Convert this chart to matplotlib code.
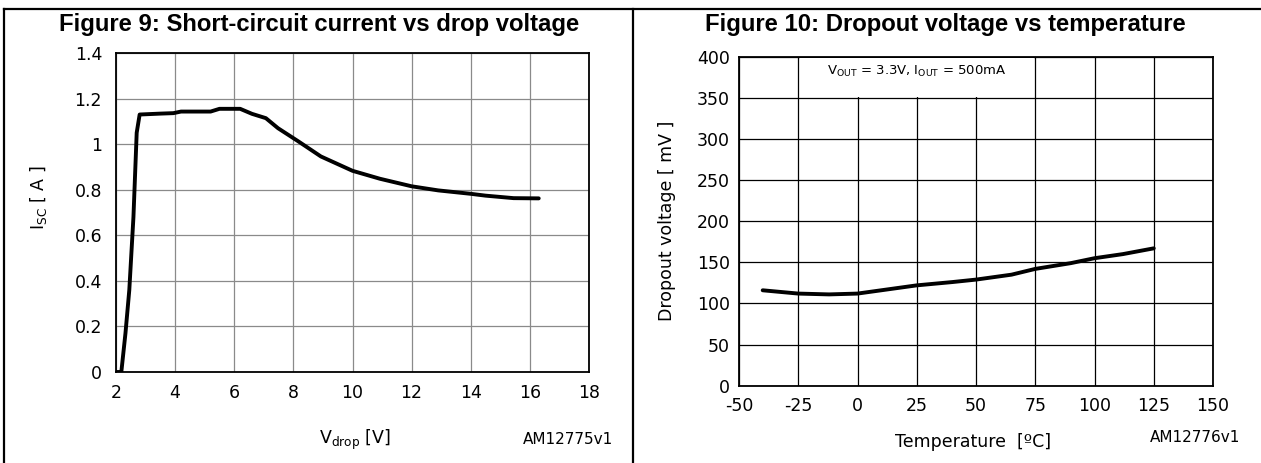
import matplotlib
matplotlib.use('Agg')
import matplotlib.pyplot as plt
from matplotlib.lines import Line2D
from matplotlib.patches import Rectangle

plt.rcParams['axes.unicode_minus'] = False

# Figure 9 data: short-circuit current vs drop voltage
v_drop = [2.0, 2.18, 2.32, 2.45, 2.59, 2.70, 2.80, 3.5, 3.94, 4.2, 5.2, 5.5, 6.2,
          6.6, 7.07, 7.48, 8.17, 8.93, 10.0, 10.93, 12.0, 12.9, 14.0, 14.5, 15.45, 16.3]
i_sc = [0.0, 0.0, 0.17, 0.36, 0.68, 1.05, 1.13, 1.134, 1.136, 1.143, 1.143, 1.155, 1.155,
        1.133, 1.114, 1.07, 1.012, 0.946, 0.883, 0.848, 0.815, 0.797, 0.782, 0.774, 0.763, 0.762]

# Figure 10 data: dropout voltage vs temperature
temp = [-40, -25, -12, 0, 10, 25, 40, 50, 65, 75, 90, 100, 112, 125]
dropout = [116, 112, 111, 112, 116, 122, 126, 129, 135, 142, 149, 155, 160, 167]

W, H = 1261, 463
fig = plt.figure(figsize=(W / 100, H / 100), dpi=100)

def px_rect(l, t, r, b):
    return [l / W, 1 - b / H, (r - l) / W, (b - t) / H]

# frame lines
fig.add_artist(Line2D([4.3 / W, 1], [1 - 8.5 / H] * 2, color='black', lw=1.6))
fig.add_artist(Line2D([4.3 / W] * 2, [0, 1 - 8.5 / H], color='black', lw=1.6))
fig.add_artist(Line2D([632.7 / W] * 2, [0, 1 - 8.5 / H], color='black', lw=1.6))

# ---- Figure 9 ----
ax1 = fig.add_axes(px_rect(116, 53, 589, 372))
ax1.plot(v_drop, i_sc, color='black', lw=2.8, solid_capstyle='round', zorder=3)
ax1.set_xlim(2, 18)
ax1.set_ylim(0, 1.4)
ax1.set_xticks([2, 4, 6, 8, 10, 12, 14, 16, 18])
ax1.set_yticks([0, 0.2, 0.4, 0.6, 0.8, 1.0, 1.2, 1.4])
ax1.set_yticklabels(['0', '0.2', '0.4', '0.6', '0.8', '1', '1.2', '1.4'])
ax1.grid(True, color='#8a8a8a', lw=0.9)
ax1.tick_params(length=0, labelsize=12.5)
ax1.tick_params(axis='y', pad=10)
ax1.tick_params(axis='x', pad=9)
ax1.set_xlabel(r'V$_{\mathregular{drop}}$ [V]', fontsize=12.5)
ax1.set_ylabel(r'I$_{\mathregular{SC}}$ [ A ]', fontsize=12.5)
ax1.xaxis.set_label_coords(0.505, -0.176)
ax1.yaxis.set_label_coords(-0.142, 0.545)

# ---- Figure 10 ----
ax2 = fig.add_axes(px_rect(739, 56.7, 1213, 385.7))
ax2.plot(temp, dropout, color='black', lw=2.8, solid_capstyle='round', zorder=3)
ax2.set_xlim(-50, 150)
ax2.set_ylim(0, 400)
ax2.set_xticks(range(-50, 151, 25))
ax2.set_yticks(range(0, 401, 50))
ax2.grid(True, color='black', lw=0.9)
ax2.tick_params(length=0, labelsize=12.5)
ax2.tick_params(axis='y', pad=6.5)
ax2.tick_params(axis='x', pad=8)
ax2.add_patch(Rectangle((-24.3, 351), 98.6, 48, facecolor='white', edgecolor='none', zorder=2))
ax2.text(25, 382, r'V$_{\mathregular{OUT}}$ = 3.3V, I$_{\mathregular{OUT}}$ = 500mA',
         ha='center', va='center', fontsize=9.5, zorder=4)
ax2.set_xlabel('Temperature  [ºC]', fontsize=12.5)
ax2.set_ylabel('Dropout voltage [ mV ]', fontsize=12.5)
ax2.xaxis.set_label_coords(0.494, -0.144)
ax2.yaxis.set_label_coords(-0.133, 0.5)

for ax in (ax1, ax2):
    for s in ax.spines.values():
        s.set_linewidth(1.3)
    ax.set_axisbelow(True)

# titles
title_font = dict(family='Liberation Sans', weight='bold', size=17.2)
fig.text(319 / W, 1 - 24 / H, 'Figure 9: Short-circuit current vs drop voltage',
         ha='center', va='center', **title_font)
fig.text(945 / W, 1 - 24 / H, 'Figure 10: Dropout voltage vs temperature',
         ha='center', va='center', **title_font)

fig.text(568 / W, 1 - 440 / H, 'AM12775v1', ha='center', va='center', fontsize=11)
fig.text(1195 / W, 1 - 438 / H, 'AM12776v1', ha='center', va='center', fontsize=11)

fig.savefig('out.png', dpi=100)
